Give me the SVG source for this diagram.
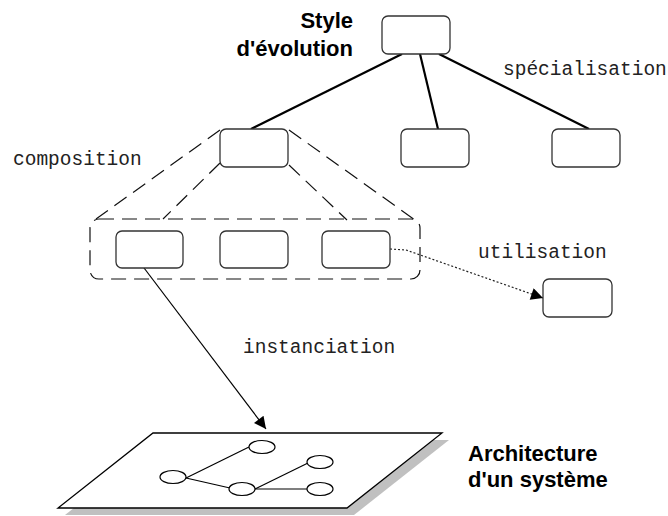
<svg xmlns="http://www.w3.org/2000/svg" width="668" height="516" viewBox="0 0 668 516">
<defs>
<style>
.box{fill:#fff;stroke:#333;stroke-width:1.3}
.tree{stroke:#000;stroke-width:2.2;fill:none}
.dash{stroke:#111;stroke-width:1.2;fill:none;stroke-dasharray:15 8}
.mono{font-family:"Liberation Mono","Courier New",monospace;font-size:19.5px;fill:#222}
.title{font-family:"Liberation Sans",Arial,sans-serif;font-weight:bold;font-size:22px;fill:#000}
.ell{fill:#fff;stroke:#000;stroke-width:1.2}
.net{stroke:#000;stroke-width:1.2;fill:none}
</style>
<marker id="arr" viewBox="0 0 10 10" refX="10" refY="5" markerWidth="15" markerHeight="12" markerUnits="userSpaceOnUse" orient="auto">
<path d="M0,0 L10,5 L0,10 Z" fill="#000"/>
</marker>
</defs>
<rect width="668" height="516" fill="#fff"/>

<g id="connectors">
<line class="tree" x1="402" y1="54" x2="251" y2="129"/>
<line class="tree" x1="420" y1="54" x2="438" y2="129"/>
<line class="tree" x1="439" y1="54" x2="589" y2="129"/>
<line class="dash" x1="220" y1="130" x2="96" y2="219"/>
<line class="dash" x1="220" y1="163" x2="163" y2="219"/>
<line class="dash" x1="289" y1="165" x2="347" y2="220"/>
<line class="dash" x1="289" y1="130" x2="415" y2="220"/>
<path d="M390,249 L406,250 L543,298" fill="none" stroke="#222" stroke-width="1.2" stroke-dasharray="2 2" marker-end="url(#arr)"/>
<line x1="138" y1="260" x2="266" y2="429" stroke="#000" stroke-width="1.2" marker-end="url(#arr)"/>
</g>

<g id="style-evolution-label">
<text class="title" x="353" y="28" text-anchor="end">Style</text>
<text class="title" x="353" y="56" text-anchor="end">d'évolution</text>
</g>

<g id="root"><rect class="box" x="382" y="16" width="68" height="38" rx="6"/></g>
<g id="composite"><rect class="box" x="220" y="129" width="68" height="38" rx="6"/></g>
<g id="child-middle"><rect class="box" x="401" y="129" width="68" height="38" rx="6"/></g>
<g id="child-right"><rect class="box" x="552" y="129" width="68" height="38" rx="6"/></g>

<g id="group"><rect class="dash" x="90" y="219" width="330" height="60" rx="9"/></g>
<g id="part1"><rect class="box" x="116" y="231" width="67" height="37" rx="6"/></g>
<g id="part2"><rect class="box" x="220" y="231" width="68" height="37" rx="6"/></g>
<g id="part3"><rect class="box" x="322" y="231" width="68" height="37" rx="6"/></g>
<g id="used"><rect class="box" x="543" y="279" width="69" height="38" rx="6"/></g>

<g id="labels">
<text class="mono" x="503" y="75">spécialisation</text>
<text class="mono" x="13" y="165">composition</text>
<text class="mono" x="478" y="258">utilisation</text>
<text class="mono" x="243" y="353">instanciation</text>
</g>

<g id="architecture">
<polygon points="160,440 449,440 354,515 65,515" fill="#c0c0c0"/>
<polygon points="153,433 442,433 347,508 58,508" fill="#fff" stroke="#000" stroke-width="1.3"/>
<line class="net" x1="186" y1="478" x2="249" y2="447"/>
<line class="net" x1="186" y1="478" x2="230" y2="488"/>
<line class="net" x1="255" y1="489" x2="308" y2="463"/>
<line class="net" x1="255" y1="489" x2="307" y2="489"/>
<ellipse class="ell" cx="262" cy="447" rx="13" ry="6.5"/>
<ellipse class="ell" cx="173" cy="477" rx="13" ry="6.5"/>
<ellipse class="ell" cx="242" cy="489" rx="13" ry="6.5"/>
<ellipse class="ell" cx="320" cy="462" rx="13" ry="6.5"/>
<ellipse class="ell" cx="320" cy="489" rx="13" ry="6.5"/>
</g>

<g id="architecture-label">
<text class="title" x="468" y="461">Architecture</text>
<text class="title" x="468" y="487">d'un système</text>
</g>
</svg>
